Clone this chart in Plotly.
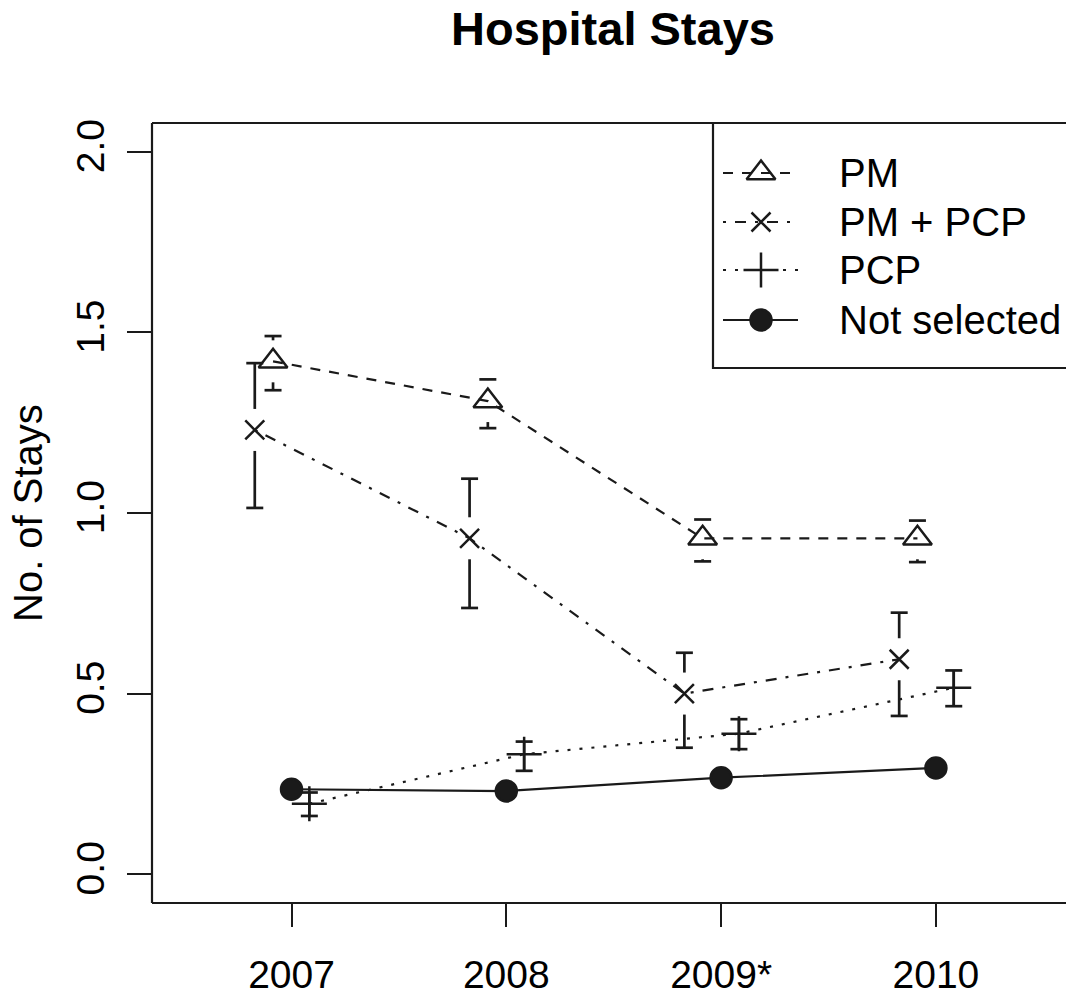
import plotly.graph_objects as go

# ---- data -------------------------------------------------------------
years = [2007, 2008, 2009, 2010]
year_labels = ["2007", "2008", "2009*", "2010"]

pm_mean = [1.42, 1.31, 0.93, 0.93]
pm_lo = [1.34, 1.235, 0.866, 0.864]
pm_hi = [1.49, 1.37, 0.982, 0.979]

pmpcp_mean = [1.23, 0.93, 0.50, 0.595]
pmpcp_lo = [1.014, 0.737, 0.350, 0.438]
pmpcp_hi = [1.415, 1.095, 0.613, 0.724]

pcp_mean = [0.195, 0.332, 0.389, 0.516]
pcp_lo = [0.161, 0.286, 0.346, 0.465]
pcp_hi = [0.226, 0.367, 0.429, 0.564]

notsel_mean = [0.235, 0.230, 0.267, 0.294]

y_ticks = [0.0, 0.5, 1.0, 1.5, 2.0]
y_tick_labels = ["0.0", "0.5", "1.0", "1.5", "2.0"]

# ---- layout constants -------------------------------------------------
W, H = 1066, 995
ML, MR, MT, MB = 152, 0, 123, 92
PLOT_W = W - ML - MR
PLOT_H = H - MT - MB
X_RANGE = [2006.3505, 2006.3505 + PLOT_W / 214.8]
Y_RANGE = [-0.08, 2.08]
PX_PER_X = PLOT_W / (X_RANGE[1] - X_RANGE[0])
PX_PER_Y = PLOT_H / (Y_RANGE[1] - Y_RANGE[0])

INK = "#1a1a1a"
FONT = "Liberation Sans, Arial, Helvetica, sans-serif"

DASHED = "10px,9px"
DOTTED = "3px,9px"
DASHDOT = "3px,9px,11px,9px"

SYM_PM = ("triangle-up-open", 25)
SYM_PMPCP = ("x-thin-open", 19)
SYM_PCP = ("cross-thin-open", 25)
SYM_NS = ("circle", 21)

fig = go.Figure()


def series(mean, offset, dash, sym, name):
    xs = [y + offset for y in years]
    fig.add_trace(go.Scatter(
        x=xs, y=mean, mode="lines+markers", name=name,
        line=dict(color=INK, width=2.2, dash=dash),
        marker=dict(symbol=sym[0], size=sym[1], color=INK,
                    line=dict(color=INK, width=2.5)),
        showlegend=False, cliponaxis=False,
    ))


def error_bars(mean, lo, hi, offset, gap_px):
    """Vertical bars with flat caps; bars stop short of the marker by gap_px."""
    gap = gap_px / PX_PER_Y
    half_cap = 8.5 / PX_PER_X
    xs, ys = [], []
    for yr, m, l, h in zip(years, mean, lo, hi):
        x = yr + offset
        top_start = min(m + gap, h)
        bot_start = max(m - gap, l)
        xs += [x, x, None, x - half_cap, x + half_cap, None]
        ys += [top_start, h, None, h, h, None]
        xs += [x, x, None, x - half_cap, x + half_cap, None]
        ys += [bot_start, l, None, l, l, None]
    fig.add_trace(go.Scatter(
        x=xs, y=ys, mode="lines", line=dict(color=INK, width=2.7),
        showlegend=False, hoverinfo="skip", cliponaxis=False,
    ))


OFF_PMPCP, OFF_PM, OFF_NS, OFF_PCP = -0.171, -0.086, 0.0, 0.083

series(pm_mean, OFF_PM, DASHED, SYM_PM, "PM")
series(pmpcp_mean, OFF_PMPCP, DASHDOT, SYM_PMPCP, "PM + PCP")
series(pcp_mean, OFF_PCP, DOTTED, SYM_PCP, "PCP")
series(notsel_mean, OFF_NS, "solid", SYM_NS, "Not selected")

error_bars(pm_mean, pm_lo, pm_hi, OFF_PM, 21)
error_bars(pmpcp_mean, pmpcp_lo, pmpcp_hi, OFF_PMPCP, 21)
error_bars(pcp_mean, pcp_lo, pcp_hi, OFF_PCP, 0)

# ---- legend key, drawn on a pixel-scaled overlay axis ------------------
legend_rows = [
    ("PM", DASHED, SYM_PM, 173),
    ("PM + PCP", DASHDOT, SYM_PMPCP, 222),
    ("PCP", DOTTED, SYM_PCP, 270),
    ("Not selected", "solid", SYM_NS, 320),
]
annotations = []
for label, dash, sym, ypx in legend_rows:
    fig.add_trace(go.Scatter(
        x=[723, 798], y=[ypx, ypx], xaxis="x2", yaxis="y2", mode="lines",
        line=dict(color=INK, width=2.2, dash=dash),
        showlegend=False, hoverinfo="skip", cliponaxis=False,
    ))
    fig.add_trace(go.Scatter(
        x=[761], y=[ypx], xaxis="x2", yaxis="y2", mode="markers",
        marker=dict(symbol=sym[0], size=sym[1], color=INK,
                    line=dict(color=INK, width=2.5)),
        showlegend=False, hoverinfo="skip", cliponaxis=False,
    ))
    annotations.append(dict(
        x=837, y=ypx, xref="x2", yref="y2", text=label, showarrow=False,
        xanchor="left", yanchor="middle",
        font=dict(family=FONT, size=40, color="black"),
    ))

annotations.append(dict(
    x=-124 / PLOT_W, y=0.5, xref="paper", yref="paper", text="No. of Stays",
    textangle=-90, showarrow=False, xanchor="center", yanchor="middle",
    font=dict(family=FONT, size=40, color="black"),
))

shapes = [
    # plot frame (its right side runs past the page edge)
    dict(type="line", xref="paper", yref="paper", x0=0, x1=0, y0=0, y1=1,
         line=dict(color=INK, width=2.2)),
    dict(type="line", xref="paper", yref="paper", x0=0, x1=1.05, y0=1, y1=1,
         line=dict(color=INK, width=2.2)),
    dict(type="line", xref="paper", yref="paper", x0=0, x1=1.05, y0=0, y1=0,
         line=dict(color=INK, width=2.2)),
    # legend frame
    dict(type="rect", xref="x2", yref="y2", x0=713, x1=1100, y0=123, y1=368,
         line=dict(color=INK, width=2.2), fillcolor="rgba(0,0,0,0)"),
]

fig.update_layout(
    width=W, height=H,
    margin=dict(l=ML, r=MR, t=MT, b=MB, pad=0),
    paper_bgcolor="white", plot_bgcolor="white",
    font=dict(family=FONT, color="black"),
    title=dict(text="<b>Hospital Stays</b>", xref="container", x=613 / W,
               xanchor="center", y=1 - 29 / H, yanchor="middle",
               font=dict(family=FONT, size=47, color="black")),
    xaxis=dict(range=X_RANGE, tickvals=years, ticktext=year_labels,
               ticks="outside", ticklen=23, tickwidth=2.2, tickcolor=INK,
               ticklabelstandoff=14,
               showgrid=False, zeroline=False, showline=False,
               tickfont=dict(family=FONT, size=39, color="black"),
               fixedrange=True),
    yaxis=dict(range=Y_RANGE, tickvals=y_ticks, ticktext=y_tick_labels,
               ticks="outside", ticklen=24, tickwidth=2.2, tickcolor=INK,
               ticklabelstandoff=7,
               tickangle=-90, showgrid=False, zeroline=False, showline=False,
               tickfont=dict(family=FONT, size=39, color="black"),
               fixedrange=True),
    xaxis2=dict(range=[ML, W - MR], overlaying="x", anchor="y2",
                visible=False, fixedrange=True),
    yaxis2=dict(range=[MT + PLOT_H, MT], overlaying="y", anchor="x2",
                visible=False, fixedrange=True),
    annotations=annotations,
    shapes=shapes,
    showlegend=False,
)

fig.write_html("out.html")
